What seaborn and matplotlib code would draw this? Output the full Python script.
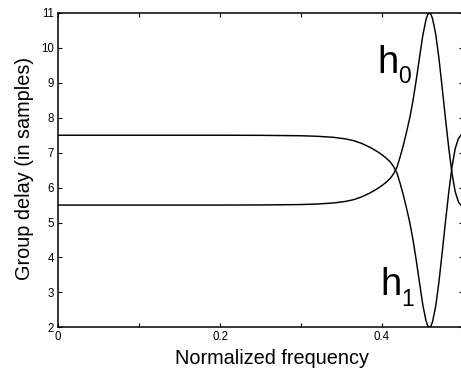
import matplotlib
matplotlib.use("Agg")
import matplotlib.pyplot as plt
import seaborn as sns
import pandas as pd

# ---- data ----
freq = [0.000, 0.100, 0.200, 0.250, 0.300, 0.320, 0.340, 0.355, 0.365, 0.375,
        0.385, 0.390, 0.395, 0.400, 0.405, 0.4104, 0.4144, 0.4184, 0.4224, 0.4264,
        0.4304, 0.4344, 0.4384, 0.4424, 0.4464, 0.4504, 0.4544, 0.4564, 0.4584, 0.4604,
        0.4624, 0.4664, 0.4704, 0.4744, 0.4784, 0.4824, 0.4864, 0.4904, 0.4944, 0.4984,
        0.5000]
h0_delay = [5.50, 5.50, 5.50, 5.503, 5.515, 5.53, 5.56, 5.605, 5.655, 5.735,
            5.845, 5.91, 5.98, 6.06, 6.15, 6.27, 6.40, 6.58, 6.88, 7.22,
            7.60, 8.01, 8.51, 9.10, 9.74, 10.36, 10.82, 10.955, 11.00, 10.96,
            10.84, 10.38, 9.68, 8.84, 7.97, 7.14, 6.41, 5.88, 5.59, 5.47,
            5.45]
h1_delay = [7.50, 7.50, 7.50, 7.497, 7.485, 7.47, 7.44, 7.395, 7.345, 7.265,
            7.155, 7.09, 7.02, 6.94, 6.85, 6.73, 6.60, 6.42, 6.12, 5.78,
            5.40, 4.99, 4.49, 3.90, 3.26, 2.64, 2.18, 2.045, 2.00, 2.04,
            2.16, 2.62, 3.32, 4.16, 5.03, 5.86, 6.59, 7.12, 7.41, 7.53,
            7.55]
x_ticks = [0.0, 0.1, 0.2, 0.3, 0.4, 0.5]
x_ticklabels = ["0", "", "0.2", "", "0.4", ""]
y_ticks = [2, 3, 4, 5, 6, 7, 8, 9, 10, 11]

df = pd.DataFrame({"f": freq, "h0": h0_delay, "h1": h1_delay})

sns.set_style("white")
plt.rcParams["font.family"] = ["Liberation Sans", "DejaVu Sans"]
plt.rcParams["text.color"] = "black"
plt.rcParams["axes.labelcolor"] = "black"
plt.rcParams["xtick.color"] = "black"
plt.rcParams["ytick.color"] = "black"

W, H = 461, 374
fig = plt.figure(figsize=(W / 100, H / 100), dpi=100)
left_px, right_px, top_px, bot_px = 58, 463, 13, 327.3
ax = fig.add_axes([left_px / W, 1 - bot_px / H, (right_px - left_px) / W, (bot_px - top_px) / H])

sns.lineplot(data=df, x="f", y="h0", ax=ax, color="black", lw=1.05, estimator=None, sort=False)
sns.lineplot(data=df, x="f", y="h1", ax=ax, color="black", lw=1.05, estimator=None, sort=False)

ax.set_xlim(0, 0.5)
ax.set_ylim(2, 11)
ax.set_xticks(x_ticks)
ax.set_xticklabels(x_ticklabels)
ax.set_yticks(y_ticks)
ax.set_yticklabels([str(v) for v in y_ticks])
ax.tick_params(direction="in", length=3, width=0.8, colors="black", labelsize=8.3,
               top=True, right=True, bottom=True, left=True, pad=3)
for s in ax.spines.values():
    s.set_visible(True)
    s.set_color("black")
    s.set_linewidth(1.1)

ax.set_xlabel("")
ax.set_ylabel("")
fig.text(271.7 / W, 1 - 364 / H, "Normalized frequency", fontsize=14.3,
         ha="center", va="baseline", color="black")
fig.text(24 / W, 1 - 168 / H, "Group delay (in samples)", fontsize=14.3,
         ha="center", va="center", rotation=90, color="black")

# curve labels
fig.text(377.3 / W, 1 - 73.3 / H, "h", fontsize=27.5, ha="left", va="baseline", color="black")
fig.text(397.7 / W, 1 - 82.7 / H, "0", fontsize=16.5, ha="left", va="baseline", color="black")
fig.text(380.7 / W, 1 - 295 / H, "h", fontsize=27.5, ha="left", va="baseline", color="black")
fig.text(401.5 / W, 1 - 305.5 / H, "1", fontsize=16.5, ha="left", va="baseline", color="black")

fig.savefig("out.png", dpi=100)
